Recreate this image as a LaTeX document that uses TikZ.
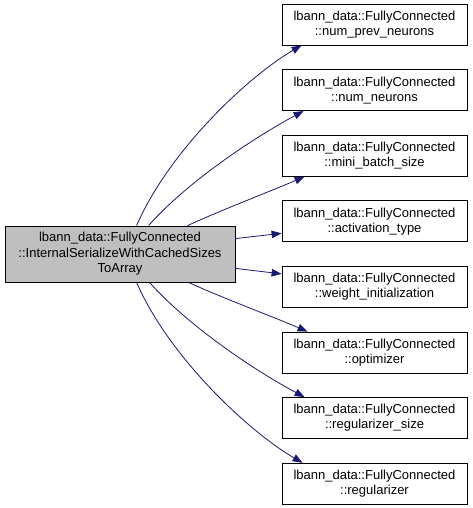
\documentclass[tikz,border=0pt]{standalone}
\usepackage{fontspec}
\setmainfont{Liberation Sans}
\usetikzlibrary{arrows.meta,calc}
\definecolor{edgeblue}{RGB}{25,25,112}
\definecolor{boxgray}{RGB}{191,191,191}
\begin{document}
\begin{tikzpicture}[x=1pt,y=-1pt,
  fnbox/.style={draw=black,line width=0.8pt,fill=white,minimum width=185pt,minimum height=41pt,inner sep=0pt,align=center,font=\fontsize{13}{15}\selectfont},
  mainbox/.style={draw=black,line width=0.8pt,fill=boxgray,minimum width=230pt,minimum height=56pt,inner sep=0pt,align=center,font=\fontsize{13}{15.5}\selectfont},
  callarrow/.style={draw=edgeblue,line width=0.8pt,-{Triangle[length=10pt,width=7.5pt]}}]
\useasboundingbox (0,0) rectangle (472,508);
\node[mainbox] (L) at (120,254) {lbann\_data::FullyConnected\\::InternalSerializeWithCachedSizes\\ToArray};
\node[fnbox] (R1) at (374.5,24.5) {lbann\_data::FullyConnected\\::num\_prev\_neurons};
\node[fnbox] (R2) at (374.5,90.1) {lbann\_data::FullyConnected\\::num\_neurons};
\node[fnbox] (R3) at (374.5,155.7) {lbann\_data::FullyConnected\\::mini\_batch\_size};
\node[fnbox] (R4) at (374.5,221.3) {lbann\_data::FullyConnected\\::activation\_type};
\node[fnbox] (R5) at (374.5,286.9) {lbann\_data::FullyConnected\\::weight\_initialization};
\node[fnbox] (R6) at (374.5,352.5) {lbann\_data::FullyConnected\\::optimizer};
\node[fnbox] (R7) at (374.5,418.1) {lbann\_data::FullyConnected\\::regularizer\_size};
\node[fnbox] (R8) at (374.5,483.7) {lbann\_data::FullyConnected\\::regularizer};
\draw[callarrow] ($(L.north west)+(132,0)$) .. controls +(33,-76) and +(-52,30) .. ($(R1.south west)+(20,0)$);
\draw[callarrow] ($(L.north west)+(144,0)$) .. controls +(36,-41) and +(-54,29) .. ($(R2.south west)+(22,0)$);
\draw[callarrow] ($(L.north west)+(183,0)$) .. controls +(30,-14) and +(-35,15) .. ($(R3.south west)+(23,0)$);
\draw[callarrow] ($(L.north east)+(0,13)$) -- ($(R4.west)+(0,12)$);
\draw[callarrow] ($(L.south east)+(0,-14)$) -- ($(R5.west)+(0,-13)$);
\draw[callarrow] ($(L.south west)+(184,0)$) .. controls +(30,14) and +(-35,-15) .. ($(R6.north west)+(26,0)$);
\draw[callarrow] ($(L.south west)+(145,0)$) .. controls +(36,41) and +(-54,-29) .. ($(R7.north west)+(23,0)$);
\draw[callarrow] ($(L.south west)+(132,0)$) .. controls +(33,76) and +(-52,-30) .. ($(R8.north west)+(21,0)$);
\end{tikzpicture}
\end{document}
